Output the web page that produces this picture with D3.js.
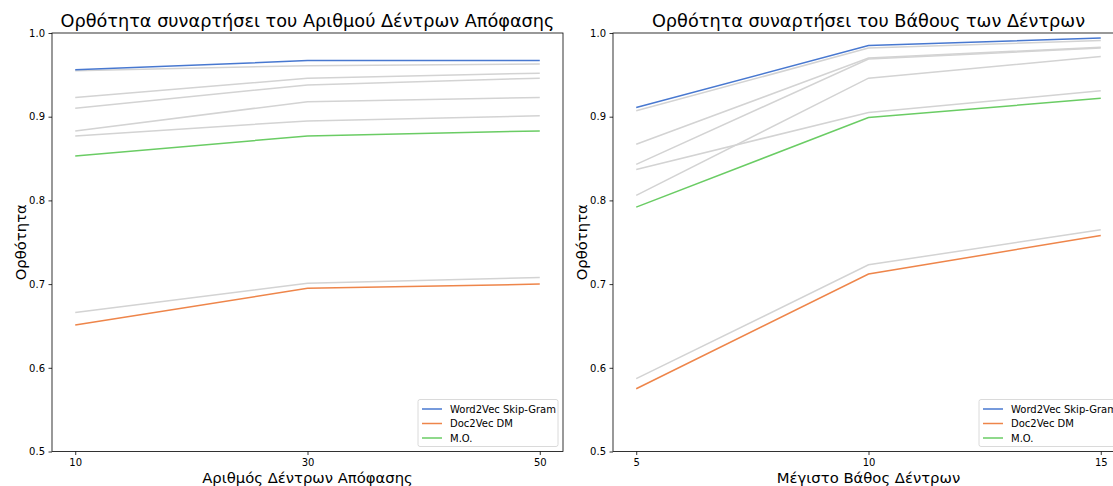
<!DOCTYPE html>
<html><head><meta charset="utf-8">
<script src="https://cdn.jsdelivr.net/npm/d3@7"></script>
<style>
html,body{margin:0;padding:0;background:#fff;overflow:hidden;}
svg{display:block;font-family:"DejaVu Sans",sans-serif;}
</style></head>
<body>
<svg id="chart" width="1113" height="486"></svg>
<script>
// ---- data ----
const treesX = [10, 30, 50];
const depthX = [5, 10, 15];
const yTicks = [0.5, 0.6, 0.7, 0.8, 0.9, 1.0];

const w2vTrees  = [0.956, 0.967, 0.967];
const d2vTrees  = [0.651, 0.695, 0.700];
const meanTrees = [0.853, 0.877, 0.883];
const otherTrees = [
  [0.955, 0.961, 0.963],
  [0.923, 0.946, 0.952],
  [0.910, 0.938, 0.946],
  [0.883, 0.918, 0.923],
  [0.877, 0.895, 0.901],
  [0.666, 0.701, 0.708]
];

const w2vDepth  = [0.911, 0.985, 0.994];
const d2vDepth  = [0.575, 0.712, 0.758];
const meanDepth = [0.792, 0.899, 0.922];
const otherDepth = [
  [0.907, 0.982, 0.991],
  [0.867, 0.970, 0.983],
  [0.843, 0.969, 0.982],
  [0.837, 0.905, 0.931],
  [0.806, 0.946, 0.972],
  [0.587, 0.723, 0.765]
];

const legendLabels = ["Word2Vec Skip-Gram", "Doc2Vec DM", "M.O."];
const colors = ["#4878d0", "#ee854a", "#6acc64"];
const grey = "#d3d3d3";

const svg = d3.select("#chart");

function panel(opts) {
  const {left, right, top, bottom, xs, xDomain, xTicks, title, xLabel, yLabel, others, main} = opts;
  const x = d3.scaleLinear().domain(xDomain).range([left, right]);
  const y = d3.scaleLinear().domain([0.5, 1.0]).range([bottom, top]);
  const g = svg.append("g");

  const line = d3.line().x((d, i) => x(xs[i])).y(d => y(d));

  others.forEach(s => {
    g.append("path").attr("d", line(s)).attr("fill", "none")
      .attr("stroke", grey).attr("stroke-width", 1.5);
  });
  main.forEach((s, k) => {
    g.append("path").attr("d", line(s)).attr("fill", "none")
      .attr("stroke", colors[k]).attr("stroke-width", 1.5);
  });

  // axes
  const xAxis = d3.axisBottom(x).tickValues(xTicks).tickSize(3.5).tickPadding(3.5).tickFormat(d3.format("d"));
  const yAxis = d3.axisLeft(y).tickValues(yTicks).tickSize(3.5).tickPadding(3.5).tickFormat(d3.format(".1f"));
  const gx = g.append("g").attr("transform", `translate(0,${bottom})`).call(xAxis);
  const gy = g.append("g").attr("transform", `translate(${left},0)`).call(yAxis);
  [gx, gy].forEach(a => {
    a.select(".domain").remove();
    a.selectAll("text").attr("font-size", 10).attr("font-family", "DejaVu Sans").attr("fill", "#000");
    a.selectAll("line").attr("stroke", "#000").attr("stroke-width", 0.8);
  });

  // spines
  g.append("rect").attr("x", left).attr("y", top).attr("width", right - left).attr("height", bottom - top)
    .attr("fill", "none").attr("stroke", "#000").attr("stroke-width", 0.8);

  // title and labels
  g.append("text").attr("x", (left + right) / 2).attr("y", top - 6)
    .attr("text-anchor", "middle").attr("font-size", 17.7).text(title);
  g.append("text").attr("x", (left + right) / 2).attr("y", bottom + 31)
    .attr("text-anchor", "middle").attr("font-size", 14.8).text(xLabel);
  g.append("text").attr("transform", `translate(${left - 26},${(top + bottom) / 2}) rotate(-90)`)
    .attr("text-anchor", "middle").attr("font-size", 14.8).text(yLabel);

  // legend
  const lw = 140, lh = 47;
  const lx = right - 5 - lw, ly = bottom - 5 - lh;
  const lg = g.append("g");
  lg.append("rect").attr("x", lx).attr("y", ly).attr("width", lw).attr("height", lh)
    .attr("rx", 2).attr("fill", "#fff").attr("fill-opacity", 0.8)
    .attr("stroke", "#d0d0d0").attr("stroke-width", 0.8);
  legendLabels.forEach((lab, k) => {
    const cy = ly + 9.5 + k * 14.5;
    lg.append("line").attr("x1", lx + 4).attr("x2", lx + 24).attr("y1", cy).attr("y2", cy)
      .attr("stroke", colors[k]).attr("stroke-width", 1.5);
    lg.append("text").attr("x", lx + 32).attr("y", cy + 3.6).attr("font-size", 10).text(lab);
  });
}

panel({
  left: 52, right: 563, top: 33, bottom: 451.5,
  xs: treesX, xDomain: [8, 52], xTicks: treesX,
  title: "Ορθότητα συναρτήσει του Αριθμού Δέντρων Απόφασης",
  xLabel: "Αριθμός Δέντρων Απόφασης", yLabel: "Ορθότητα",
  others: otherTrees, main: [w2vTrees, d2vTrees, meanTrees]
});
panel({
  left: 613, right: 1124, top: 33, bottom: 451.5,
  xs: depthX, xDomain: [4.5, 15.5], xTicks: depthX,
  title: "Ορθότητα συναρτήσει του Βάθους των Δέντρων",
  xLabel: "Μέγιστο Βάθος Δέντρων", yLabel: "Ορθότητα",
  others: otherDepth, main: [w2vDepth, d2vDepth, meanDepth]
});
</script>
</body></html>
